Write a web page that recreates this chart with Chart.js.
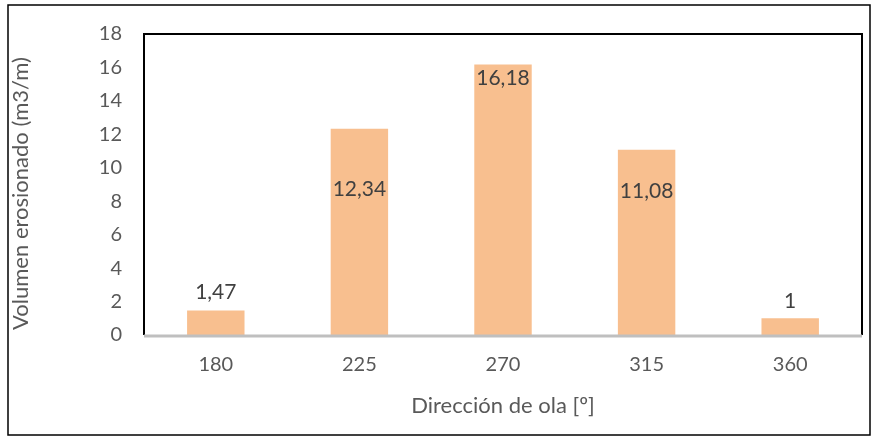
<!DOCTYPE html>
<html>
<head>
<meta charset="utf-8">
<script src="https://cdn.jsdelivr.net/npm/chart.js@4/dist/chart.umd.min.js"></script>
<style>
  html, body { margin: 0; padding: 0; background: #fff; }
  #wrap { width: 877px; height: 440px; }
</style>
</head>
<body>
<div id="wrap"><canvas id="c" width="877" height="440"></canvas></div>
<script>
// datos
const direcciones = ["180", "225", "270", "315", "360"];
const volumen = [1.47, 12.34, 16.18, 11.08, 1];
// altura (en m3/m) donde esta centrada cada etiqueta
const alturaEtiqueta = [2.56, 8.69, 15.36, 8.57, 2.02];
const yTicks = [0, 2, 4, 6, 8, 10, 12, 14, 16, 18];
const tituloY = "Volumen erosionado (m3/m)";

const FONT = "Lato, 'Open Sans', sans-serif";
const GRIS = "#595959";

// marco exterior + marco del area de trazado + titulo del eje y
const marcos = {
    id: "marcos",
    afterDraw(chart) {
        const ctx = chart.ctx;
        const a = chart.chartArea;
        ctx.save();
        ctx.strokeStyle = "#000";
        ctx.lineWidth = 1.5;
        ctx.strokeRect(8, 5, 862, 430);
        ctx.lineWidth = 2;
        ctx.beginPath();
        ctx.moveTo(a.left, a.bottom);
        ctx.lineTo(a.left, a.top);
        ctx.lineTo(a.right, a.top);
        ctx.lineTo(a.right, a.bottom);
        ctx.stroke();
        // eje x gris
        ctx.strokeStyle = "#BFBFBF";
        ctx.lineWidth = 3;
        ctx.beginPath();
        ctx.moveTo(a.left, a.bottom + 1);
        ctx.lineTo(a.right, a.bottom + 1);
        ctx.stroke();
        // titulo vertical, un poco por debajo del centro como en el original
        ctx.translate(21, (a.top + a.bottom) / 2 + 9);
        ctx.rotate(-Math.PI / 2);
        ctx.font = "22px " + FONT;
        ctx.fillStyle = GRIS;
        ctx.textAlign = "center";
        ctx.textBaseline = "middle";
        ctx.fillText(tituloY, 0, 0);
        ctx.restore();
    }
};

// etiquetas de valor
const etiquetas = {
    id: "etiquetas",
    afterDatasetsDraw(chart) {
        const ctx = chart.ctx;
        const meta = chart.getDatasetMeta(0);
        const y = chart.scales.y;
        ctx.save();
        ctx.font = "21px " + FONT;
        ctx.fillStyle = "#404040";
        ctx.textAlign = "center";
        ctx.textBaseline = "middle";
        meta.data.forEach((bar, i) => {
            const txt = String(volumen[i]).replace(".", ",");
            ctx.fillText(txt, bar.x, y.getPixelForValue(alturaEtiqueta[i]));
        });
        ctx.restore();
    }
};

new Chart(document.getElementById("c").getContext("2d"), {
    type: "bar",
    data: {
        labels: direcciones,
        datasets: [{
            data: volumen,
            backgroundColor: "#F8BF8F",
            borderWidth: 0,
            barPercentage: 0.4,
            categoryPercentage: 1
        }]
    },
    options: {
        responsive: false,
        animation: false,
        layout: { padding: { top: 33, right: 15, left: 0, bottom: 0 } },
        plugins: {
            legend: { display: false },
            tooltip: { enabled: false }
        },
        scales: {
            x: {
                grid: { display: false, drawTicks: false },
                border: { display: false },
                ticks: { color: GRIS, font: { family: FONT, size: 20 }, padding: 18 },
                title: {
                    display: true,
                    text: "Dirección de ola [º]",
                    color: GRIS,
                    font: { family: FONT, size: 22 },
                    padding: { top: 0, bottom: 21 }
                },
                afterFit(scale) { scale.height = 105; }
            },
            y: {
                min: 0,
                max: 18,
                afterBuildTicks(scale) { scale.ticks = yTicks.map(v => ({ value: v })); },
                grid: { display: false, drawTicks: false },
                border: { display: false },
                ticks: { color: GRIS, font: { family: FONT, size: 20 }, padding: 22 },
                title: { display: false },
                afterFit(scale) { scale.width = 144; }
            }
        }
    },
    plugins: [marcos, etiquetas]
});
</script>
</body>
</html>
